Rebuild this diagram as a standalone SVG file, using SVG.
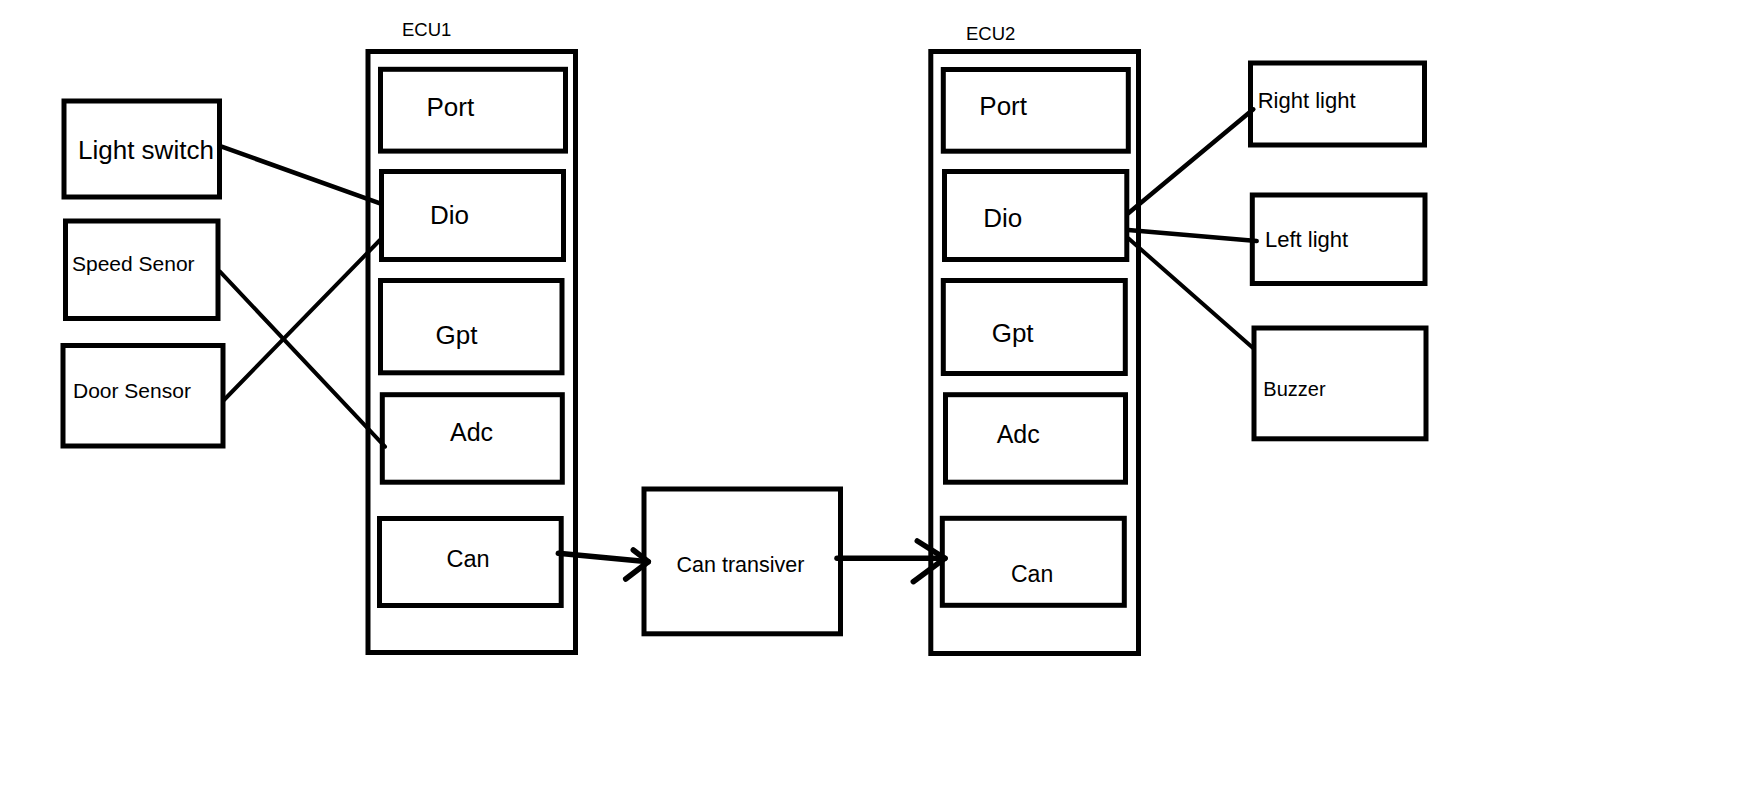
<svg xmlns="http://www.w3.org/2000/svg" width="1748" height="812" viewBox="0 0 1748 812">
  <style>
    .box { fill: none; stroke: #000; stroke-width: 5; }
    .lbl { font-family: "Liberation Sans", Arial, sans-serif; fill: #000; }
    .wire { fill: none; stroke: #000; stroke-width: 4.5; stroke-linecap: round; }
    .thin { stroke-width: 4; }
    .bus { fill: none; stroke: #000; stroke-width: 5.5; stroke-linecap: round; stroke-linejoin: round; }
  </style>
  <rect x="0" y="0" width="1748" height="812" fill="#fff"/>

  <!-- input devices -->
  <g id="light-switch">
    <rect class="box" x="64" y="101" width="155.5" height="96"/>
    <text class="lbl" x="78" y="159" font-size="26">Light switch</text>
  </g>
  <g id="speed-sensor">
    <rect class="box" x="65.5" y="221" width="152.5" height="97.5"/>
    <text class="lbl" x="72" y="270.5" font-size="21">Speed Senor</text>
  </g>
  <g id="door-sensor">
    <rect class="box" x="63" y="345.5" width="160" height="100.5"/>
    <text class="lbl" x="73" y="398" font-size="21">Door Sensor</text>
  </g>

  <!-- ECU1 -->
  <g id="ecu1">
    <text class="lbl" x="402" y="35.5" font-size="18.5">ECU1</text>
    <rect class="box" x="368" y="51.5" width="207.5" height="601"/>
  </g>
  <g id="ecu1-port">
    <rect class="box" x="380.5" y="69.3" width="185" height="81.8"/>
    <text class="lbl" x="426.5" y="115.5" font-size="26">Port</text>
  </g>
  <g id="ecu1-dio">
    <rect class="box" x="381.5" y="171.5" width="182" height="88"/>
    <text class="lbl" x="430" y="224" font-size="26">Dio</text>
  </g>
  <g id="ecu1-gpt">
    <rect class="box" x="380.5" y="280.5" width="181.5" height="92.3"/>
    <text class="lbl" x="435.5" y="344" font-size="26">Gpt</text>
  </g>
  <g id="ecu1-adc">
    <rect class="box" x="382.3" y="394.7" width="180" height="87.5"/>
    <text class="lbl" x="450" y="441" font-size="25">Adc</text>
  </g>
  <g id="ecu1-can">
    <rect class="box" x="379.5" y="518.5" width="181.7" height="87"/>
    <text class="lbl" x="446.5" y="567.3" font-size="23.5">Can</text>
  </g>

  <!-- CAN transceiver -->
  <g id="can-transceiver">
    <rect class="box" x="644" y="489" width="196.5" height="144.8"/>
    <text class="lbl" x="676.5" y="571.5" font-size="21.5">Can transiver</text>
  </g>

  <!-- ECU2 -->
  <g id="ecu2">
    <text class="lbl" x="966" y="40" font-size="18.5">ECU2</text>
    <rect class="box" x="930.8" y="51.5" width="207.7" height="602"/>
  </g>
  <g id="ecu2-port">
    <rect class="box" x="943.3" y="69.5" width="185" height="81.7"/>
    <text class="lbl" x="979.3" y="115" font-size="26">Port</text>
  </g>
  <g id="ecu2-dio">
    <rect class="box" x="944.5" y="171.5" width="182.3" height="88"/>
    <text class="lbl" x="983.3" y="226.7" font-size="26">Dio</text>
  </g>
  <g id="ecu2-gpt">
    <rect class="box" x="943.3" y="280.5" width="182" height="93"/>
    <text class="lbl" x="991.7" y="341.7" font-size="26">Gpt</text>
  </g>
  <g id="ecu2-adc">
    <rect class="box" x="945.5" y="394.7" width="180" height="87.5"/>
    <text class="lbl" x="996.7" y="442.7" font-size="25">Adc</text>
  </g>
  <g id="ecu2-can">
    <rect class="box" x="942.3" y="518.3" width="182" height="87"/>
    <text class="lbl" x="1011" y="581.7" font-size="23">Can</text>
  </g>

  <!-- output devices -->
  <g id="right-light">
    <rect class="box" x="1250.5" y="63" width="174" height="82"/>
    <text class="lbl" x="1257.7" y="108.3" font-size="22">Right light</text>
  </g>
  <g id="left-light">
    <rect class="box" x="1252.3" y="195" width="172.7" height="88.5"/>
    <text class="lbl" x="1265" y="246.7" font-size="22">Left light</text>
  </g>
  <g id="buzzer">
    <rect class="box" x="1254" y="328" width="172" height="110.8"/>
    <text class="lbl" x="1263.3" y="395.7" font-size="20">Buzzer</text>
  </g>

  <!-- wiring -->
  <g id="connectors">
    <line class="wire" x1="221.7" y1="146.7" x2="380" y2="203.3"/>
    <line class="wire thin" x1="220" y1="271.7" x2="385" y2="446.7"/>
    <line class="wire thin" x1="224" y1="400" x2="380" y2="240"/>

    <line class="bus" x1="558.3" y1="553.3" x2="648.3" y2="561.7"/>
    <path class="bus" d="M633.3,550 L648.3,561.7 L625.7,579"/>

    <line class="bus" x1="837" y1="558.3" x2="945" y2="558.3"/>
    <path class="bus" d="M917.3,541 L945,558.3 L913.3,581.7"/>

    <line class="wire" x1="1128.3" y1="213.3" x2="1253.3" y2="109.3"/>
    <line class="wire" x1="1128.3" y1="230" x2="1256.7" y2="241"/>
    <line class="wire thin" x1="1128.3" y1="238.3" x2="1253.3" y2="348.3"/>
  </g>
</svg>
